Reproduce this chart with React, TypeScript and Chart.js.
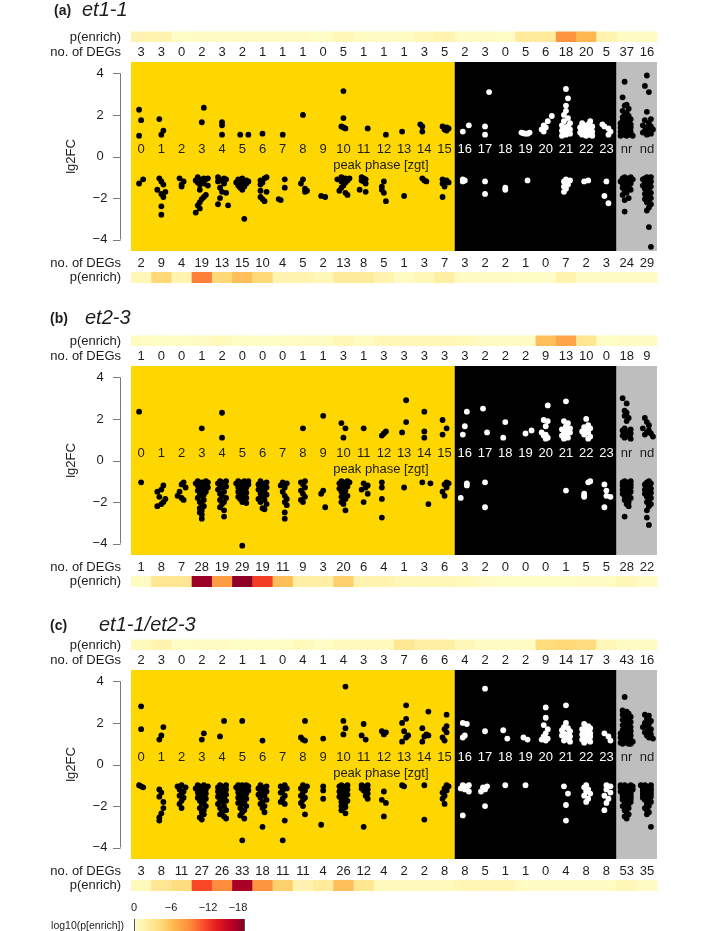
import React, { useEffect, useRef } from "react";
import { Chart, registerables } from "chart.js";
Chart.register(...registerables);

// ---------- categories ----------
const PHASES = ["0","1","2","3","4","5","6","7","8","9","10","11","12","13","14","15","16","17","18","19","20","21","22","23","nr","nd"];
const Y_TICKS = [4, 2, 0, -2, -4];
const LEGEND_TICKS = [0, -6, -12, -18];

// ---------- number of DEGs (top = up, bottom = down) ----------
const A_UP_N = [3,3,0,2,3,2,1,1,1,0,5,1,1,1,3,5,2,3,0,5,6,18,20,5,37,16];
const A_DN_N = [2,9,4,19,13,15,10,4,5,2,13,8,5,1,3,7,3,2,2,1,0,7,2,3,24,29];
const B_UP_N = [1,0,0,1,2,0,0,0,1,1,3,1,3,3,3,3,3,2,2,2,9,13,10,0,18,9];
const B_DN_N = [1,8,7,28,19,29,19,11,9,3,20,6,4,1,3,6,3,2,0,0,0,1,5,5,28,22];
const C_UP_N = [2,3,0,2,2,1,1,0,4,1,4,3,3,7,6,6,4,2,2,2,9,14,17,3,43,16];
const C_DN_N = [3,8,11,27,26,33,18,11,11,4,26,12,4,2,2,8,8,5,1,1,0,4,8,8,53,35];

// ---------- log10(p[enrich]) per column ----------
const A_P_UP = [-1.5,-1.5,-0.3,-0.5,-0.5,-0.5,-0.5,-0.5,-0.5,-0.3,-1,-0.5,-0.5,-0.5,-1,-1.5,-0.5,-0.5,-0.3,-2.5,-2.5,-8.5,-6.5,-1.5,-0.5,-0.5];
const A_P_DN = [-1,-4.5,-1.5,-9.5,-4.5,-6,-4.5,-1.5,-1.5,-1,-2.5,-2.5,-1.5,-0.5,-1,-2,-0.5,-0.5,-0.5,-0.3,-0.3,-1.5,-0.5,-0.5,-0.5,-0.5];
const B_P_UP = [-0.5,-0.3,-0.3,-0.5,-0.8,-0.3,-0.3,-0.3,-0.5,-0.5,-1,-0.5,-1,-1,-1,-1,-0.8,-0.5,-0.5,-0.5,-6,-7.5,-3,-0.3,-0.5,-0.5];
const B_P_DN = [-0.5,-3,-3,-17,-8,-17.5,-12,-6,-2,-2,-5,-1.5,-1.5,-1,-1,-1,-0.8,-0.5,-0.3,-0.3,-0.3,-0.3,-0.5,-0.5,-1,-0.5];
const C_P_UP = [-0.8,-1.5,-0.3,-0.5,-0.5,-0.3,-0.3,-0.3,-0.8,-0.3,-0.8,-0.8,-0.8,-3,-2,-2,-1,-0.5,-0.5,-0.5,-4,-4.5,-4,-1,-0.5,-0.5];
const C_P_DN = [-0.8,-3,-4,-11.5,-9,-16.5,-8.5,-5,-1.5,-2.5,-6,-3,-0.8,-0.8,-0.8,-0.8,-1.2,-1.2,-1.2,-0.5,-0.5,-0.5,-0.5,-0.5,-1,-0.5];

// ---------- lg2FC values per column; token = value + jitter letter (a..h = -0.3..+0.4 column) ----------
const A_UP = [
  "2.25c 1.75d 1.0c", "1.8c 1.25e 1.05d", "", "2.35e 1.65d", "1.65d 1.5d 1.05d", "1.05c 1.05g", "1.1d", "1.05d", "2.0d", "",
  "3.15d 1.85d 1.45c 1.4d 1.35e", "1.35f", "1.05e", "1.2c", "1.55b 1.45c 1.2c", "1.45c 1.4e 1.35f 1.3d 1.25e",
  "1.5f 1.2c", "3.1f 1.45d 1.05d", "", "1.15b 1.1d 1.15f 1.1e 1.12c", "1.95g 1.7e 1.5c 1.4d 1.3b 1.2c",
  "3.25d 2.8e 2.45d 2.2d 2.0c 1.85e 1.7c 1.6f 1.5b 1.45e 1.4d 1.3f 1.25b 1.2e 1.15c 1.1f 1.05d 1.0b",
  "1.7f 1.6b 1.55e 1.5c 1.45g 1.4a 1.4d 1.35f 1.3c 1.3e 1.25b 1.2g 1.2d 1.15a 1.1e 1.1c 1.05f 1.05b 1.0d 1.0g",
  "1.55b 1.45c 1.35e 1.2f 1.05e",
  "3.6c 2.85b 2.5d 2.45c 2.3e 2.2b 2.1d 2.0c 1.95e 1.9b 1.85d 1.8f 1.75c 1.7b 1.65e 1.6a 1.6d 1.55f 1.5b 1.5e 1.45c 1.4a 1.4f 1.35d 1.3b 1.3e 1.25c 1.2a 1.2f 1.15d 1.1b 1.1e 1.05c 1.05f 1.0a 1.0d 1.0g",
  "3.9d 3.4c 3.1e 2.15d 1.8f 1.75c 1.6e 1.5b 1.45f 1.4d 1.3g 1.25c 1.2e 1.15b 1.1f 1.05d",
];
const A_DN = [
  "-1.3c -1.1e", "-1.05c -1.2d -1.35e -1.6b -1.7f -1.8d -1.95e -2.4d -2.8d", "-1.05c -1.2e -1.35d -1.45d",
  "-1.0b -1.05e -1.05g -1.1c -1.1f -1.15a -1.2d -1.25b -1.3e -1.35c -1.4g -1.6c -1.85f -1.95e -2.05d -2.2c -2.35b -2.5c -2.7a",
  "-1.0b -1.05e -1.1c -1.1f -1.15d -1.2b -1.3e -1.5c -1.7d -1.75f -2.0c -2.3b -2.35g",
  "-1.05d -1.1b -1.15f -1.2c -1.2g -1.25a -1.25e -1.3c -1.3f -1.35d -1.4b -1.45e -1.5c -1.6d -3.0e",
  "-1.0f -1.05e -1.15c -1.25d -1.35c -1.65c -1.7f -1.95c -2.05d -2.15e", "-1.1e -1.5e -2.05b -2.1c",
  "-1.1d -1.3c -1.55e -1.65f -1.7e", "-1.9c -1.95e",
  "-1.0c -1.05e -1.05g -1.1a -1.1d -1.15f -1.2c -1.25e -1.4d -1.5c -1.65b -1.75e -1.85f",
  "-1.0c -1.05d -1.1e -1.15c -1.2d -1.3e -1.6b -1.7e", "-1.2d -1.45c -1.6c -1.75d -2.15e", "-1.9d",
  "-1.05c -1.15d -1.2e", "-1.1c -1.15e -1.2d -1.25f -1.3c -1.45d -1.95c", "-1.1c -1.15d -1.2c", "-1.2d -1.8d",
  "-1.5d -1.6d", "-1.15e", "", "-1.1d -1.15f -1.2c -1.35e -1.45c -1.55d -1.7c", "-1.15e -1.2c", "-1.2d -1.9c -2.25e",
  "-1.0c -1.0f -1.05b -1.05e -1.1d -1.1g -1.15c -1.2a -1.2e -1.25d -1.3b -1.3f -1.35d -1.4c -1.45e -1.5b -1.55d -1.6f -1.65c -1.75d -1.85b -2.0e -2.1c -2.65c",
  "-1.0d -1.0f -1.05c -1.1e -1.1b -1.15d -1.2f -1.25c -1.3e -1.35d -1.4b -1.45f -1.5d -1.55c -1.6e -1.7d -1.75f -1.8c -1.85e -1.9d -2.0f -2.05c -2.1e -2.2d -2.3f -2.45e -2.6d -3.4e -4.35f",
];
const B_UP = [
  "2.35c", "", "", "1.55d", "2.3d 1.1d", "", "", "", "1.55d", "2.15d", "1.8c 1.55e 1.1d", "1.55d", "1.4e 1.3d 1.2c",
  "2.9e 1.85e 1.35c", "2.35d 1.4d 1.1d", "1.95c 1.55e 1.25c", "2.35e 1.65d 1.25c", "2.5c 1.35e", "1.85d 1.1c", "1.45g 1.3d",
  "2.65e 1.95c 1.9e 1.65d 1.35b 1.25d 1.2c 1.1e 1.05d",
  "2.85d 1.9c 1.8e 1.65d 1.55f 1.5b 1.45e 1.4c 1.35f 1.3d 1.2b 1.1e 1.05c",
  "2.0d 1.7e 1.6c 1.55f 1.45d 1.4b 1.35e 1.25c 1.15f 1.05e", "",
  "3.0b 2.75d 2.4c 2.3d 2.15c 2.05e 1.9d 1.55c 1.5f 1.45b 1.4e 1.35c 1.3f 1.25d 1.2b 1.15e 1.1c 1.05f",
  "2.05c 1.85d 1.7e 1.55b 1.45e 1.35d 1.3f 1.25c 1.15g",
];
const B_DN = [
  "-1.05d", "-1.2e -1.4d -1.5b -1.75c -1.85f -2.0e -2.1d -2.2b", "-1.05e -1.15d -1.3f -1.5c -1.7b -1.8d -1.9e",
  "-1.0b -1.0f -1.05d -1.05g -1.1a -1.1e -1.15c -1.2f -1.2b -1.25d -1.3g -1.35c -1.4e -1.45b -1.5f -1.6c -1.65e -1.7d -1.8b -1.9e -2.0c -2.1d -2.2e -2.3c -2.4d -2.5c -2.6d -2.8d",
  "-1.0c -1.0f -1.05d -1.1b -1.15e -1.2c -1.25f -1.3d -1.4b -1.5e -1.6c -1.7d -1.8f -1.9c -2.0e -2.1d -2.25c -2.4e -2.7e",
  "-1.0b -1.0e -1.0g -1.05c -1.05f -1.1a -1.1d -1.15b -1.15g -1.2c -1.2e -1.25d -1.3b -1.3f -1.35c -1.4e -1.45d -1.5b -1.55f -1.6c -1.65e -1.7d -1.75b -1.8f -1.85c -1.9e -2.0d -2.05f -4.1d",
  "-1.0c -1.05f -1.1d -1.15b -1.2e -1.25c -1.3f -1.35d -1.4b -1.5e -1.6c -1.65f -1.75d -1.85b -1.9e -2.0c -2.1f -2.3d -2.35e",
  "-1.05d -1.1f -1.2c -1.3e -1.5d -1.7e -1.85f -2.0e -2.15f -2.5e -2.8e",
  "-1.0e -1.05c -1.15d -1.3e -1.45c -1.6d -1.75e -1.9c -2.0d", "-1.45d -1.6c -2.25e",
  "-1.0c -1.0f -1.05d -1.05g -1.1b -1.15e -1.2c -1.25f -1.3d -1.35b -1.45e -1.5c -1.6d -1.7f -1.75c -1.85e -1.9d -2.0c -2.1d -2.4e",
  "-1.1d -1.2f -1.3e -1.4c -1.6f -2.0d", "-1.05c -1.3c -1.85c -2.75c", "-1.3d", "-1.05c -1.1g -2.1f",
  "-1.05e -1.1f -1.15d -1.3e -1.5c -1.7d", "-1.1e -1.2e -1.8b", "-1.05d -2.25d", "", "", "", "-1.45d",
  "-1.0f -1.05e -1.6c -1.7c -1.75c", "-1.15c -1.45d -1.7d -1.75f -2.25c",
  "-1.0c -1.0f -1.05d -1.05b -1.1e -1.1c -1.15f -1.2d -1.2b -1.25e -1.3c -1.3f -1.35d -1.4b -1.45e -1.5c -1.5f -1.55d -1.6b -1.65e -1.7c -1.75d -1.8f -1.9c -2.0e -2.1d -2.2e -2.7c",
  "-1.0e -1.05d -1.1f -1.15c -1.2e -1.3d -1.35f -1.4c -1.45e -1.5d -1.55f -1.6c -1.7e -1.75d -1.8f -1.9e -2.0d -2.1f -2.2e -2.4d -2.75d -3.1e",
];
const C_UP = [
  "2.8d 1.7d", "1.8e 1.4d 1.2c", "", "1.5e 1.2d", "2.1e 1.35c", "2.1d", "1.15d", "", "2.1e 1.3c 1.2d 1.15e", "1.25d",
  "3.75e 2.1d 1.75e 1.45d", "1.95d 1.4c 1.2e", "1.6c 1.55e 1.45d", "2.85e 2.2e 2.0c 1.6d 1.4f 1.3e 1.1c",
  "2.55f 1.75c 1.45e 1.4f 1.35d 1.1c", "2.4e 1.85e 1.7d 1.55e 1.3c 1.15d", "2.0c 1.95e 1.4d 1.3c", "3.65d 1.6d",
  "1.65c 1.25e", "1.3c 1.2e", "2.75d 2.25d 1.9c 1.7e 1.5d 1.35c 1.25e 1.2b 1.15d",
  "2.85d 2.0d 1.8c 1.75e 1.65b 1.6f 1.5c 1.45e 1.4b 1.35f 1.3d 1.2e 1.15c 1.1f",
  "1.95c 1.85e 1.8d 1.75f 1.7b 1.6e 1.55c 1.5f 1.45b 1.4d 1.35f 1.3c 1.25e 1.2b 1.15d 1.1f 1.05c",
  "1.5c 1.35e 1.15f",
  "3.25c 2.6b 2.55d 2.5c 2.45e 2.4b 2.35d 2.3f 2.25c 2.2e 2.15b 2.1d 2.05f 2.0c 1.95e 1.9b 1.85d 1.8f 1.75c 1.7e 1.65b 1.6d 1.6f 1.55c 1.5a 1.5e 1.45d 1.4b 1.4f 1.35c 1.3e 1.3a 1.25d 1.2f 1.2b 1.15e 1.1c 1.1g 1.05d 1.05a 1.0e 1.0b 1.0f",
  "2.4c 2.35e 2.2d 2.1f 2.0c 1.95e 1.85d 1.8b 1.7f 1.6d 1.55c 1.5e 1.45f 1.4d 1.3e 1.25g",
];
const C_DN = [
  "-1.0c -1.05d -1.1e", "-1.2c -1.35d -1.55c -1.8e -2.1e -2.35d -2.55c -2.7c",
  "-1.0d -1.05b -1.1f -1.2c -1.3e -1.4d -1.5c -1.6e -1.75d -1.9c -2.1d",
  "-1.0b -1.0e -1.05c -1.05g -1.1d -1.15a -1.2f -1.25c -1.3e -1.35b -1.4f -1.45d -1.5c -1.55e -1.6b -1.65f -1.7d -1.75c -1.8e -1.9d -2.0f -2.1c -2.2e -2.3d -2.4e -2.55c -2.65d",
  "-1.0c -1.0f -1.05d -1.1b -1.1e -1.15c -1.2f -1.25d -1.3b -1.35e -1.4c -1.45f -1.5d -1.55b -1.6e -1.7c -1.75f -1.8d -1.9b -2.0e -2.1c -2.2f -2.3d -2.4c -2.5e -2.6f",
  "-1.0b -1.0d -1.0f -1.05c -1.05g -1.1a -1.1e -1.15c -1.15f -1.2b -1.2d -1.25g -1.3c -1.3e -1.35b -1.4f -1.45d -1.5c -1.55e -1.6b -1.65f -1.7d -1.75c -1.8e -1.85b -1.9d -2.0f -2.1c -2.2e -2.3d -2.45c -2.6e -3.65d",
  "-1.0c -1.05f -1.1d -1.15b -1.2e -1.25c -1.3f -1.35d -1.45b -1.5e -1.6c -1.7f -1.8d -1.9c -2.0e -2.1d -2.3e -3.0d",
  "-1.0e -1.05c -1.15f -1.25d -1.35c -1.5e -1.65d -1.8c -1.9e -2.7e -3.65d",
  "-1.0d -1.05f -1.15c -1.25e -1.35d -1.5c -1.6e -1.7d -1.85c -2.0d -2.4e", "-1.05d -1.25d -1.65d -2.9c",
  "-1.0c -1.0f -1.05d -1.05b -1.1e -1.15c -1.2f -1.25d -1.3b -1.35e -1.4c -1.45f -1.5d -1.55b -1.6e -1.65c -1.7d -1.75f -1.8c -1.85e -1.9d -2.0c -2.05e -2.1d -2.2c -2.35e",
  "-1.0c -1.0f -1.05d -1.1e -1.15c -1.2f -1.25d -1.3e -1.4f -1.5e -1.65f -3.0d", "-1.3d -1.7c -1.85e -2.5d",
  "-1.0c -1.05d", "-1.0d -2.65d", "-1.0e -1.05f -1.15d -1.25e -1.35c -1.5d -1.65c -1.9d",
  "-1.0c -1.0f -1.05d -1.1e -1.15b -1.2d -1.3f -2.45c", "-1.05e -1.1c -1.2d -1.3b -2.0d", "-1.0d", "-1.0d", "",
  "-1.05c -1.4e -1.95d -2.7d", "-1.0d -1.1c -1.2e -1.3d -1.4f -1.5c -1.65e -1.8d",
  "-1.0d -1.05f -1.2d -1.35f -1.5c -1.65e -1.85d -2.2c",
  "-1.0c -1.0f -1.0a -1.05d -1.05b -1.05g -1.1c -1.1e -1.1a -1.15d -1.15f -1.15b -1.2c -1.2e -1.2g -1.25d -1.25b -1.25f -1.3c -1.3e -1.3a -1.35d -1.35f -1.4b -1.4e -1.4c -1.45d -1.45f -1.5b -1.5e -1.5c -1.55d -1.55f -1.6b -1.6e -1.65c -1.65f -1.7d -1.7b -1.75e -1.75c -1.8d -1.8f -1.9c -1.9e -2.0d -2.0b -2.1e -2.2c -2.3d -2.4e -2.5c -2.6d",
  "-1.0c -1.0f -1.0a -1.05d -1.05b -1.1e -1.1c -1.15f -1.15b -1.2d -1.2e -1.25c -1.25f -1.3d -1.3b -1.35e -1.35c -1.4f -1.4d -1.45b -1.5e -1.5c -1.55f -1.6d -1.6b -1.7e -1.7c -1.8f -1.9d -2.0e -2.1c -2.2d -2.3e -2.4d -3.0f",
];

// ---------- styling ----------
const FONT = "'Liberation Sans', Arial, Helvetica, sans-serif";
const TXT = "#1c1c1c";
const YELLOW = "#FFD700";
const GRAY = "#BEBEBE";
const PAL = ["#ffffcc","#ffeda0","#fed976","#feb24c","#fd8d3c","#fc4e2a","#e31a1c","#bd0026","#800026"];

function hex(c: string) { return [1, 3, 5].map((i) => parseInt(c.slice(i, i + 2), 16)); }
function pColor(v: number) {
  const t = Math.max(0, Math.min(1, -v / 18)) * (PAL.length - 1);
  const i = Math.min(Math.floor(t), PAL.length - 2);
  const f = t - i;
  const a = hex(PAL[i]), b = hex(PAL[i + 1]);
  const m = a.map((x, k) => Math.round(x + (b[k] - x) * f));
  return `rgb(${m[0]},${m[1]},${m[2]})`;
}

function parsePoints(cols: string[]) {
  const pts: { x: number; y: number }[] = [];
  cols.forEach((s, col) => {
    const t = s.trim();
    if (!t) return;
    t.split(/\s+/).forEach((tok) => {
      const letter = tok.slice(-1);
      const y = parseFloat(tok.slice(0, -1));
      const dx = (letter.charCodeAt(0) - 100) / 10;
      pts.push({ x: col + dx, y });
    });
  });
  return pts;
}

type PanelCfg = {
  tag: string; name: string; tagX: number; nameX: number; titleY: number;
  up: string[]; dn: string[]; upN: number[]; dnN: number[]; pUp: number[]; pDn: number[];
  height: number; legend: boolean;
};

const PANELS: PanelCfg[] = [
  { tag: "(a)", name: "et1-1", tagX: 54, nameX: 82, titleY: 10, up: A_UP, dn: A_DN, upN: A_UP_N, dnN: A_DN_N, pUp: A_P_UP, pDn: A_P_DN, height: 304, legend: false },
  { tag: "(b)", name: "et2-3", tagX: 50, nameX: 85, titleY: 14, up: B_UP, dn: B_DN, upN: B_UP_N, dnN: B_DN_N, pUp: B_P_UP, pDn: B_P_DN, height: 304, legend: false },
  { tag: "(c)", name: "et1-1/et2-3", tagX: 50, nameX: 99, titleY: 17, up: C_UP, dn: C_DN, upN: C_UP_N, dnN: C_DN_N, pUp: C_P_UP, pDn: C_P_DN, height: 323, legend: true },
];

const decorPlugin = {
  id: "panelDecor",
  beforeDatasetsDraw(chart: any) {
    const ctx = chart.ctx;
    const xs = chart.scales.x, ys = chart.scales.y;
    const ca = chart.chartArea;
    ctx.save();
    const regions: [number, number, string][] = [[-0.5, 15.5, YELLOW], [15.5, 23.5, "#000000"], [23.5, 25.5, GRAY]];
    regions.forEach(([a, b, c]) => {
      const x0 = xs.getPixelForValue(a), x1 = xs.getPixelForValue(b);
      ctx.fillStyle = c;
      ctx.fillRect(x0, ca.top, x1 - x0, ca.bottom - ca.top);
    });
    ctx.font = `13px ${FONT}`;
    ctx.textAlign = "center";
    ctx.textBaseline = "middle";
    const ly = ys.getPixelForValue(0.33);
    PHASES.forEach((p, i) => {
      ctx.fillStyle = i >= 16 && i <= 23 ? "#ffffff" : TXT;
      ctx.fillText(p, xs.getPixelForValue(i), ly);
    });
    ctx.fillStyle = TXT;
    ctx.fillText("peak phase [zgt]", xs.getPixelForValue(11.85), ys.getPixelForValue(-0.45));
    ctx.restore();
  },
  afterDraw(chart: any, _args: any, opts: any) {
    const cfg: PanelCfg = opts.cfg;
    const ctx = chart.ctx;
    const xs = chart.scales.x, ys = chart.scales.y;
    const ca = chart.chartArea;
    ctx.save();
    // title
    ctx.fillStyle = TXT;
    ctx.textBaseline = "middle";
    ctx.textAlign = "left";
    ctx.font = `bold 14px ${FONT}`;
    ctx.fillText(cfg.tag, cfg.tagX, cfg.titleY + 1);
    ctx.font = `italic 20px ${FONT}`;
    ctx.fillText(cfg.name, cfg.nameX, cfg.titleY);

    // strips
    const strip = (vals: number[], y0: number, h: number) => {
      vals.forEach((v, i) => {
        const x0 = xs.getPixelForValue(i - 0.5), x1 = xs.getPixelForValue(i + 0.5);
        ctx.fillStyle = pColor(v);
        ctx.fillRect(x0, y0, x1 - x0 + 0.5, h);
      });
    };
    strip(cfg.pUp, ca.top - 30.5, 10.5);
    strip(cfg.pDn, ca.bottom + 21, 11);

    // counts
    ctx.font = `13px ${FONT}`;
    ctx.fillStyle = TXT;
    ctx.textAlign = "center";
    cfg.upN.forEach((n, i) => ctx.fillText(String(n), xs.getPixelForValue(i), ca.top - 10));
    cfg.dnN.forEach((n, i) => ctx.fillText(String(n), xs.getPixelForValue(i), ca.bottom + 12));
    ctx.textAlign = "right";
    ctx.fillText("p(enrich)", ca.left - 10, ca.top - 25);
    ctx.fillText("no. of DEGs", ca.left - 10, ca.top - 10);
    ctx.fillText("no. of DEGs", ca.left - 10, ca.bottom + 12);
    ctx.fillText("p(enrich)", ca.left - 10, ca.bottom + 26);

    // y axis (R style)
    const ax = ca.left - 11;
    ctx.strokeStyle = "#7a7a7a";
    ctx.lineWidth = 1;
    ctx.beginPath();
    ctx.moveTo(ax + 0.5, ys.getPixelForValue(4));
    ctx.lineTo(ax + 0.5, ys.getPixelForValue(-4));
    Y_TICKS.forEach((t) => {
      const py = Math.round(ys.getPixelForValue(t)) + 0.5;
      ctx.moveTo(ax + 0.5, py);
      ctx.lineTo(ax - 7, py);
    });
    ctx.stroke();
    ctx.fillStyle = TXT;
    ctx.textAlign = "center";
    Y_TICKS.forEach((t) => {
      ctx.fillText(t < 0 ? "\u2212" + Math.abs(t) : String(t), ca.left - 31, ys.getPixelForValue(t));
    });
    ctx.save();
    ctx.translate(ca.left - 60, ys.getPixelForValue(0));
    ctx.rotate(-Math.PI / 2);
    ctx.fillText("lg2FC", 0, 0);
    ctx.restore();

    // legend
    if (cfg.legend) {
      const lx0 = 134, lx1 = 245;
      const top = ca.bottom + 60;
      const g = ctx.createLinearGradient(lx0, 0, lx1, 0);
      PAL.forEach((c, i) => g.addColorStop(i / (PAL.length - 1), c));
      ctx.fillStyle = g;
      ctx.fillRect(lx0, top, lx1 - lx0, 14);
      ctx.strokeStyle = "#555";
      ctx.beginPath();
      ctx.moveTo(lx0 + 0.5, top); ctx.lineTo(lx0 + 0.5, top + 14);
      ctx.moveTo(lx1 - 0.5, top); ctx.lineTo(lx1 - 0.5, top + 14);
      ctx.stroke();
      ctx.fillStyle = TXT;
      ctx.font = `11px ${FONT}`;
      ctx.textAlign = "center";
      LEGEND_TICKS.forEach((t) => {
        const px = lx0 + ((lx1 - lx0) * -t) / 18;
        ctx.fillText(t === 0 ? "0" : "\u2212" + Math.abs(t), Math.min(px, lx1 - 7), top - 11);
      });
      ctx.textAlign = "right";
      ctx.font = `10.5px ${FONT}`;
      ctx.fillText("log10(p[enrich])", lx0 - 10, top + 7);
    }
    ctx.restore();
  },
};

function Panel({ cfg, top }: { cfg: PanelCfg; top: number }) {
  const ref = useRef<HTMLCanvasElement | null>(null);
  useEffect(() => {
    if (!ref.current) return;
    const pts = [...parsePoints(cfg.up), ...parsePoints(cfg.dn)];
    const colors = pts.map((p) => {
      const c = Math.round(p.x);
      return c >= 16 && c <= 23 ? "#ffffff" : "#000000";
    });
    const chart = new Chart(ref.current, {
      type: "scatter",
      data: {
        datasets: [{
          data: pts,
          pointRadius: 2.9,
          pointBorderWidth: 0,
          pointBackgroundColor: colors,
          pointBorderColor: colors,
        }],
      },
      options: {
        responsive: false,
        animation: false,
        events: [],
        layout: { padding: { left: 131, right: 52, top: 62, bottom: cfg.height - 251 } },
        scales: {
          x: { type: "linear", min: -0.5, max: 25.5, display: false },
          y: { type: "linear", min: -4.55, max: 4.55, display: false },
        },
        plugins: {
          legend: { display: false },
          tooltip: { enabled: false },
          panelDecor: { cfg },
        } as any,
      },
      plugins: [decorPlugin],
    });
    return () => chart.destroy();
  }, [cfg]);
  return (
    <canvas
      ref={ref}
      width={709}
      height={cfg.height}
      style={{ position: "absolute", left: 0, top, width: 709, height: cfg.height, display: "block" }}
    />
  );
}

export default function App() {
  const tops = [0, 304, 608];
  return (
    <div style={{ position: "absolute", left: 0, top: 0, width: 709, height: 931, background: "#ffffff", overflow: "hidden" }}>
      {PANELS.map((p, i) => (
        <Panel key={p.tag} cfg={p} top={tops[i]} />
      ))}
    </div>
  );
}
